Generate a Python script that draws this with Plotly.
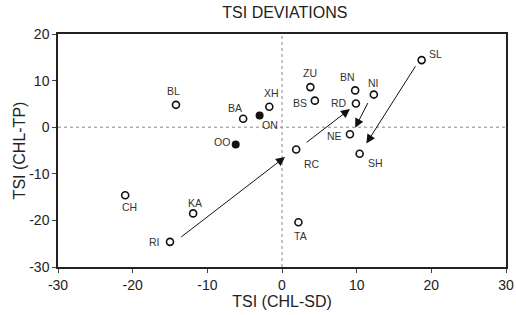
import plotly.graph_objects as go

# Data
names = ["SL", "BN", "NI", "RD", "ZU", "BS", "NE", "SH", "RC", "TA",
         "BL", "XH", "BA", "ON", "OO", "CH", "KA", "RI"]
x_sd = [18.7, 9.8, 12.3, 9.9, 3.8, 4.4, 9.1, 10.4, 1.9, 2.2,
        -14.2, -1.7, -5.2, -3.0, -6.2, -21.0, -11.9, -15.0]
y_tp = [14.4, 7.9, 7.0, 5.1, 8.6, 5.7, -1.5, -5.7, -4.8, -20.4,
        4.8, 4.4, 1.8, 2.5, -3.7, -14.6, -18.5, -24.6]
filled = ["ON", "OO"]

# arrows: (tail_x, tail_y, head_x, head_y)
arrow_tail_x = [-13.7, 3.1, 11.6, 18.0]
arrow_tail_y = [-23.8, -3.5, 5.5, 13.4]
arrow_head_x = [0.4, 9.1, 9.8, 11.3]
arrow_head_y = [-6.4, 3.9, -0.1, -3.5]

x_ticks = [-30, -20, -10, 0, 10, 20, 30]
x_tick_labels = ["-30", "-20", "-10", "0", "10", "20", "30"]
y_ticks = [-30, -20, -10, 0, 10, 20]
y_tick_labels = ["-30", "-20", "-10", "0", "10", "20"]

# label offsets in pixels (style)
label_dx = {"SL": 14, "BN": -8, "NI": 0, "RD": -17, "ZU": 0, "BS": -15, "NE": -15,
            "SH": 16, "RC": 16, "TA": 2, "BL": -2, "XH": 2, "BA": -8, "ON": 10,
            "OO": -14, "CH": 4, "KA": 2, "RI": -16}
label_dy = {"SL": 6, "BN": 13, "NI": 12, "RD": 0, "ZU": 14, "BS": -2, "NE": -2,
            "SH": -9, "RC": -14, "TA": -14, "BL": 14, "XH": 14, "BA": 11, "ON": -9,
            "OO": 2, "CH": -12, "KA": 10, "RI": 0}

FONT = "Liberation Sans, Arial"

fig = go.Figure()

# zero reference lines
fig.add_shape(type="line", x0=0, x1=0, y0=-30, y1=20, xref="x", yref="y",
              line=dict(color="#888", width=1, dash="dot"), layer="below")
fig.add_shape(type="line", x0=-30, x1=30, y0=0, y1=0, xref="x", yref="y",
              line=dict(color="#888", width=1, dash="dot"), layer="below")

open_x = [x for n, x in zip(names, x_sd) if n not in filled]
open_y = [y for n, y in zip(names, y_tp) if n not in filled]
fill_x = [x for n, x in zip(names, x_sd) if n in filled]
fill_y = [y for n, y in zip(names, y_tp) if n in filled]

fig.add_trace(go.Scatter(x=open_x, y=open_y, mode="markers",
                         marker=dict(symbol="circle-open", size=7, color="#111",
                                     line=dict(width=1.6, color="#111")),
                         showlegend=False))
fig.add_trace(go.Scatter(x=fill_x, y=fill_y, mode="markers",
                         marker=dict(symbol="circle", size=8, color="#111"),
                         showlegend=False))

annotations = []
for n, x, y in zip(names, x_sd, y_tp):
    annotations.append(dict(x=x, y=y, xref="x", yref="y", text=n, showarrow=False,
                            xshift=label_dx[n], yshift=label_dy[n],
                            font=dict(family=FONT, size=10.5, color="#333")))
for tx, ty, hx, hy in zip(arrow_tail_x, arrow_tail_y, arrow_head_x, arrow_head_y):
    annotations.append(dict(x=hx, y=hy, ax=tx, ay=ty, xref="x", yref="y",
                            axref="x", ayref="y", text="", showarrow=True,
                            arrowhead=2, arrowsize=1.8, arrowwidth=1, arrowcolor="#111",
                            standoff=0, startstandoff=0))

fig.update_layout(
    width=516, height=315,
    margin=dict(l=58, r=10, t=34, b=48),
    paper_bgcolor="white", plot_bgcolor="white",
    title=dict(text="TSI DEVIATIONS", x=0.552, xanchor="center", y=0.962, yanchor="middle",
               font=dict(family=FONT, size=16, color="#222")),
    font=dict(family=FONT, size=14, color="#222"),
    annotations=annotations,
    xaxis=dict(range=[-30, 30], tickvals=x_ticks, ticktext=x_tick_labels, automargin=False,
               showgrid=False, zeroline=False, showline=True, linecolor="#222",
               linewidth=1.5, mirror=True, ticks="outside", ticklen=4, tickcolor="#444",
               tickfont=dict(size=14),
               title=dict(text="TSI (CHL-SD)", font=dict(size=16), standoff=1)),
    yaxis=dict(range=[-30, 20], tickvals=y_ticks, ticktext=y_tick_labels, automargin=False,
               showgrid=False, zeroline=False, showline=True, linecolor="#222",
               linewidth=1.5, mirror=True, ticks="outside", ticklen=4, tickcolor="#444",
               tickfont=dict(size=14),
               title=dict(text="TSI (CHL-TP)", font=dict(size=16), standoff=0)),
)

fig.write_html("out.html")
